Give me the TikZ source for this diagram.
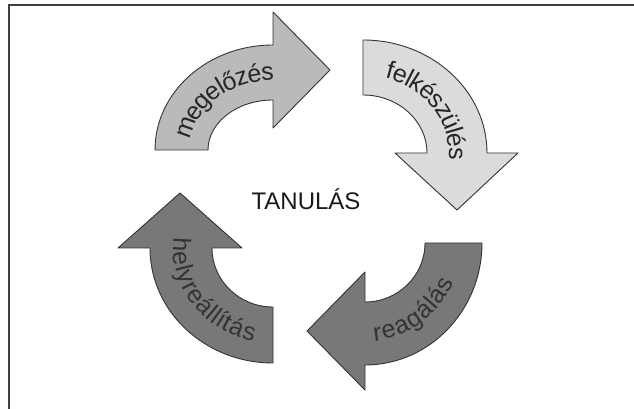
\documentclass[tikz,border=0pt]{standalone}
\usepackage{fontspec}
\setmainfont{Liberation Sans}
\usetikzlibrary{decorations.text}
\begin{document}
\begin{tikzpicture}[x=1pt,y=1pt,
  arrowshape/.style={draw=black!80, line width=0.9pt, line join=round},
  lbl/.style={decorate, decoration={text along path, text align=center, raise=-8pt, text={#1}}},
]
\useasboundingbox (0,0) rectangle (634,409);
\draw[black!75, line width=1.5pt] (634,404) -- (9,404) -- (9,0);

% megelozes
\filldraw[arrowshape, fill=black!27] (155,259) arc[start angle=180, end angle=90, x radius=118, y radius=105]
  -- (273,397) -- (330,339) -- (273,281) -- (273,309)
  arc[start angle=90, end angle=180, x radius=65, y radius=50] -- cycle;
\path[lbl={|\fontsize{25}{25}\selectfont\color{black!85}|megelőzés}]
  ([shift={(182:91.5 and 77.5)}]273,259) arc[start angle=182, end angle=80, x radius=91.5, y radius=77.5];

% felkeszules
\filldraw[arrowshape, fill=black!14] (363,369) arc[start angle=90, end angle=0, x radius=124, y radius=113]
  -- (518,256) -- (457,199) -- (395,256) -- (427,256)
  arc[start angle=0, end angle=90, x radius=64, y radius=58] -- cycle;
\path[lbl={|\fontsize{25}{25}\selectfont\color{black!85}|felkészülés}]
  ([shift={(82:94 and 85.5)}]363,256) arc[start angle=82, end angle=-12, x radius=94, y radius=85.5];

% reagalas
\filldraw[arrowshape, fill=black!53] (482,166) arc[start angle=0, end angle=-90, x radius=117, y radius=122]
  -- (365,19) -- (307,78) -- (365,137) -- (365,107)
  arc[start angle=-90, end angle=0, x radius=60, y radius=59] -- cycle;
\path[lbl={|\fontsize{25}{25}\selectfont\color{black!80}|reagálás}]
  ([shift={(-100:88.5 and 90.5)}]365,166) arc[start angle=-100, end angle=-8, x radius=88.5, y radius=90.5];

% helyreallitas
\filldraw[arrowshape, fill=black!53] (273,46) arc[start angle=-90, end angle=-180, x radius=123, y radius=115]
  -- (118,161) -- (180,216) -- (242,161) -- (212,161)
  arc[start angle=180, end angle=270, x radius=61, y radius=59] -- cycle;
\path[lbl={|\fontsize{25}{25}\selectfont\color{black!80}|helyreállítás}]
  ([shift={(168:92 and 87)}]273,161) arc[start angle=168, end angle=264, x radius=92, y radius=87];

\node[text=black!90, font=\fontsize{24}{24}\selectfont] (center) at (306,210) {TANULÁS};
\end{tikzpicture}
\end{document}
